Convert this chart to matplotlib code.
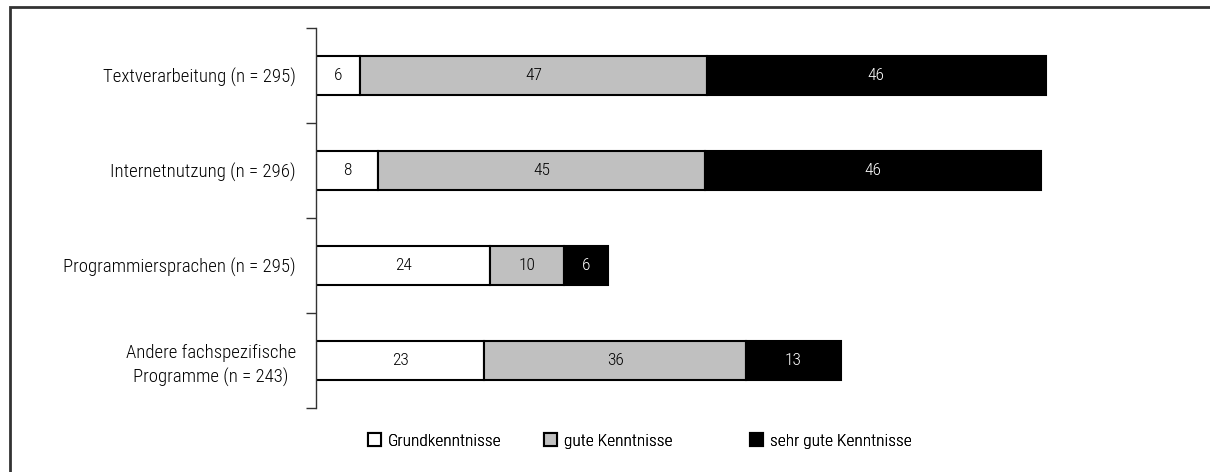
import matplotlib
matplotlib.use("Agg")
from matplotlib import pyplot as plt
from matplotlib.patches import Rectangle, Patch
import numpy as np

plt.rcParams['font.family'] = ['Roboto Condensed', 'Archivo Narrow', 'DejaVu Sans']
plt.rcParams['font.weight'] = 'light'

# data (percent)
categories = ['Textverarbeitung (n = 295)',
              'Internetnutzung (n = 296)',
              'Programmiersprachen (n = 295)',
              'Andere fachspezifische\nProgramme (n = 243)']
grund = [6.0, 8.4, 23.7, 22.9]
gute = [47.2, 44.6, 10.1, 35.6]
sehr_gute = [46.1, 45.6, 6.0, 12.9]
series_names = ['Grundkenntnisse', 'gute Kenntnisse', 'sehr gute Kenntnisse']
colors = ['white', '#c0c0c0', 'black']
text_colors = ['black', 'black', 'white']

fig = plt.figure(figsize=(12.1, 4.72), dpi=100)
# outer frame (only top/left visible in the reference)
fig.patches.append(Rectangle((10 / 1210, -0.1), 1.1, 0.1 + 465 / 472,
                             transform=fig.transFigure, fill=False,
                             edgecolor='#333333', linewidth=2))

ax = fig.add_axes([316 / 1210, 1 - 408 / 472, 884 / 1210, 380 / 472])

y = np.arange(len(categories))
left = np.zeros(len(categories))
for vals, name, col, tcol in zip([grund, gute, sehr_gute], series_names, colors, text_colors):
    bars = ax.barh(y, vals, left=left, height=0.42, color=col,
                   edgecolor='black', linewidth=1.5, label=name)
    for b, v in zip(bars, vals):
        ax.text(b.get_x() + b.get_width() / 2, b.get_y() + b.get_height() / 2,
                f'{v:.0f}', ha='center', va='center', color=tcol, fontsize=12.5)
    left += np.array(vals)

ax.set_xlim(0, 120.3)
ax.set_ylim(3.5, -0.5)

for s in ['top', 'right', 'bottom']:
    ax.spines[s].set_visible(False)
ax.spines['left'].set_linewidth(1.0)
ax.spines['left'].set_color('#333333')
ax.set_xticks([])

# boundary ticks and category labels
ax.set_yticks(np.arange(len(categories) + 1) - 0.5)
ax.set_yticklabels([])
ax.tick_params(axis='y', which='major', length=7, width=1, color='#333333')
ax.set_yticks(y, minor=True)
ax.set_yticklabels(categories, minor=True, fontsize=13.5,
                   multialignment='center', linespacing=1.4)
ax.tick_params(axis='y', which='minor', length=0, pad=14.4)

# legend entries placed like the original
legend_x = [368, 544, 750]
for lx, name, col in zip(legend_x, series_names, colors):
    h = Patch(facecolor=col, edgecolor='black', linewidth=1.5)
    lg = fig.legend([h], [name], loc='center left',
                    bbox_to_anchor=(lx / 1210, 1 - 441 / 472),
                    frameon=False, fontsize=12.5, handlelength=0.75,
                    handleheight=0.75, handletextpad=0.4, borderpad=0,
                    borderaxespad=0)
    fig.add_artist(lg)

fig.savefig('out.png', dpi=100)
